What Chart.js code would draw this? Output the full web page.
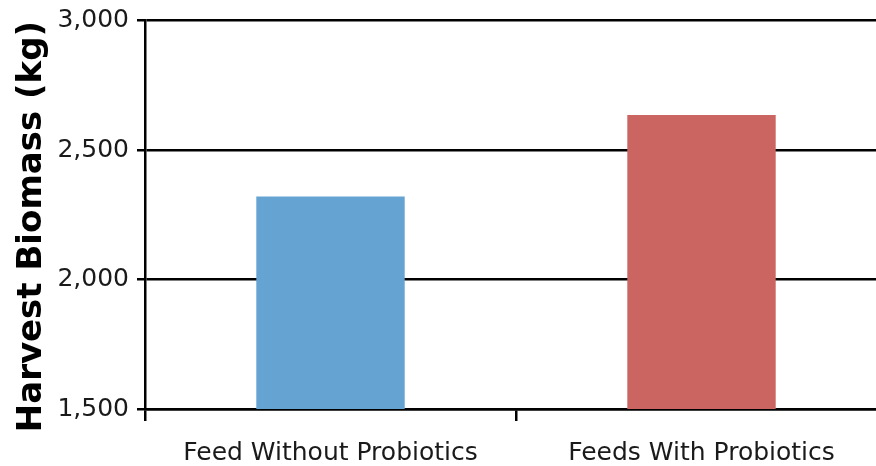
<!DOCTYPE html>
<html>
<head>
<meta charset="utf-8">
<script src="https://cdn.jsdelivr.net/npm/chart.js@4"></script>
<style>
    html, body { margin: 0; padding: 0; background: #fff; overflow: hidden; }
    #wrap { width: 887px; height: 466px; position: relative; }
</style>
</head>
<body>
<div id="wrap"><canvas id="biomassChart"></canvas></div>
<script>
// values
const categories = ['Feed Without Probiotics', 'Feeds With Probiotics'];
const biomass = [2320, 2635];
const barColors = ['#65a3d3', '#cb6561'];
const yTicks = [1500, 2000, 2500, 3000];
const yTitle = 'Harvest Biomass (kg)';

const ctx = document.getElementById('biomassChart').getContext('2d');
const myChart = new Chart(ctx, {
    type: 'bar',
    data: {
        labels: categories,
        datasets: [
            {
                data: biomass,
                backgroundColor: barColors,
                borderWidth: 0,
                barPercentage: 0.4,
                categoryPercentage: 1
            }
        ]
    },
    options: {
        responsive: true,
        maintainAspectRatio: false,
        animation: false,
        layout: { padding: { top: 20, left: 0, right: 0, bottom: 0 } },
        plugins: {
            legend: { display: false },
            tooltip: { enabled: false }
        },
        scales: {
            x: {
                offset: true,
                border: { display: true, color: '#000', width: 2.5 },
                grid: {
                    offset: true,
                    drawOnChartArea: false,
                    drawTicks: true,
                    tickLength: 12,
                    color: '#000',
                    lineWidth: 2.5
                },
                ticks: {
                    color: '#1a1a1a',
                    padding: 17,
                    maxRotation: 0,
                    font: { family: 'DejaVu Sans', size: 25 }
                },
                afterFit: scale => { scale.height = 57; }
            },
            y: {
                min: 1500,
                max: 3000,
                border: { display: true, color: '#000', width: 2.5 },
                grid: {
                    color: '#000',
                    lineWidth: 2.5,
                    tickLength: 8
                },
                afterBuildTicks: scale => {
                    scale.ticks = yTicks.map(v => ({ value: v }));
                },
                ticks: {
                    color: '#1a1a1a',
                    padding: 8,
                    font: { family: 'DejaVu Sans', size: 25, lineHeight: 1 },
                    callback: v => v.toLocaleString('en-US')
                },
                title: {
                    display: true,
                    text: yTitle + '\u00a0\u00a0',
                    color: '#000',
                    padding: { top: 12, bottom: 0 },
                    font: { family: 'DejaVu Sans', size: 34, weight: 'bold' }
                },
                afterFit: scale => { scale.width = 145; }
            }
        }
    }
});
</script>
</body>
</html>
